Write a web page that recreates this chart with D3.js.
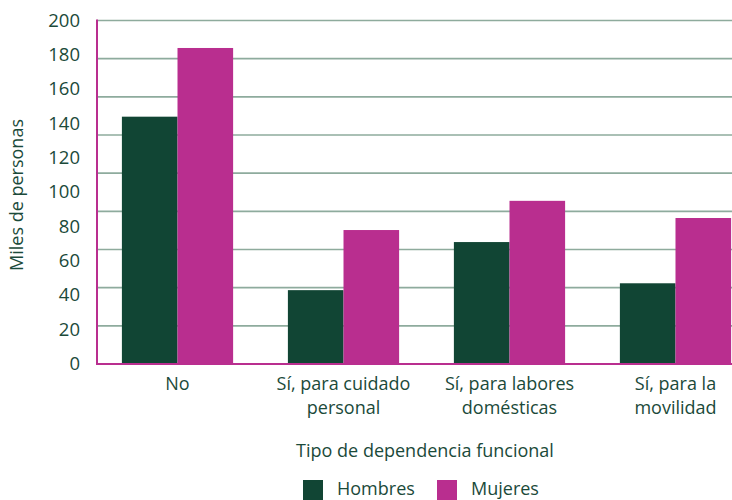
<!DOCTYPE html>
<html><head><meta charset="utf-8">
<script src="https://cdn.jsdelivr.net/npm/d3@7"></script>
<style>body{margin:0;background:#fff}svg{display:block;font-family:"Open Sans",sans-serif}</style>
</head><body><svg id="c" width="732" height="500"></svg>
<script>
const categories = [["No"], ["Sí, para cuidado", "personal"], ["Sí, para labores", "domésticas"], ["Sí, para la", "movilidad"]];
const series = ["Hombres", "Mujeres"];
const hombres = [144, 43, 71, 47];
const mujeres = [184, 78, 95, 85];
const yTicks = [0, 20, 40, 60, 80, 100, 120, 140, 160, 180, 200];
const colors = ["#114534", "#b92e8f"];
const textColor = "#1b4a3a";

(function () {
const svg = d3.select("#c");
const mLeft = 97, mBottom = 364, mTop = 20.5;
const y = d3.scaleLinear().domain([0, 200]).range([mBottom, mTop]);
const x0 = d3.scaleBand().domain(d3.range(categories.length)).range([mLeft, 756]).paddingInner(0.33).paddingOuter(0.15);
const x1 = d3.scaleBand().domain(series).range([0, x0.bandwidth()]);

// gridlines (9 intervals as in the reference)
const gridVals = d3.range(1, 10).map(i => i * 200 / 9);
svg.append("g").selectAll("line").data(gridVals).join("line")
  .attr("x1", mLeft).attr("x2", 732).attr("y1", d => y(d)).attr("y2", d => y(d))
  .attr("stroke", "#8eab9d").attr("stroke-width", 1.6);

// bars
const data = categories.map((c, i) => ({i, vals: [hombres[i], mujeres[i]]}));
const g = svg.append("g").selectAll("g").data(data).join("g")
  .attr("transform", d => `translate(${x0(d.i)},0)`);
g.selectAll("rect").data(d => d.vals.map((v, k) => ({k, v}))).join("rect")
  .attr("x", d => x1(series[d.k])).attr("width", x1.bandwidth())
  .attr("y", d => y(d.v)).attr("height", d => y(0) - y(d.v))
  .attr("fill", d => colors[d.k]);

// y axis
const yAxis = d3.axisLeft(y).tickValues(yTicks).tickSize(0).tickPadding(17);
const ya = svg.append("g").attr("transform", `translate(${mLeft},0)`).call(yAxis);
ya.select(".domain").remove();
ya.selectAll("text").attr("fill", textColor).attr("font-size", 18.5).attr("font-family", "Open Sans").attr("dy", "0.3em");

// axis lines
svg.append("line").attr("x1", mLeft).attr("x2", mLeft).attr("y1", mTop - 1).attr("y2", mBottom + 1)
  .attr("stroke", "#b92e8f").attr("stroke-width", 2);
svg.append("line").attr("x1", mLeft - 1).attr("x2", 732).attr("y1", mBottom).attr("y2", mBottom)
  .attr("stroke", "#b92e8f").attr("stroke-width", 2);

// x labels
const xl = svg.append("g").selectAll("text").data(categories).join("text")
  .attr("x", (d, i) => x0(i) + x0.bandwidth() / 2).attr("y", 390)
  .attr("text-anchor", "middle").attr("fill", textColor).attr("font-size", 18);
xl.selectAll("tspan").data(d => d).join("tspan")
  .attr("x", function() { return this.parentNode.getAttribute("x"); })
  .attr("dy", (d, j) => j === 0 ? 0 : 24).text(d => d);

// titles
svg.append("text").attr("x", 425).attr("y", 457).attr("text-anchor", "middle")
  .attr("fill", textColor).attr("font-size", 18).text("Tipo de dependencia funcional");
svg.append("text").attr("transform", "translate(23,195) rotate(-90)").attr("text-anchor", "middle")
  .attr("fill", textColor).attr("font-size", 18).text("Miles de personas");

// legend
const leg = svg.append("g").selectAll("g").data(series).join("g")
  .attr("transform", (d, i) => `translate(${[303, 437][i]},480)`);
leg.append("rect").attr("width", 20).attr("height", 20).attr("fill", (d, i) => colors[i]);
leg.append("text").attr("x", 34).attr("y", 15).attr("fill", textColor).attr("font-size", 18).text(d => d);
})();
</script></body></html>
